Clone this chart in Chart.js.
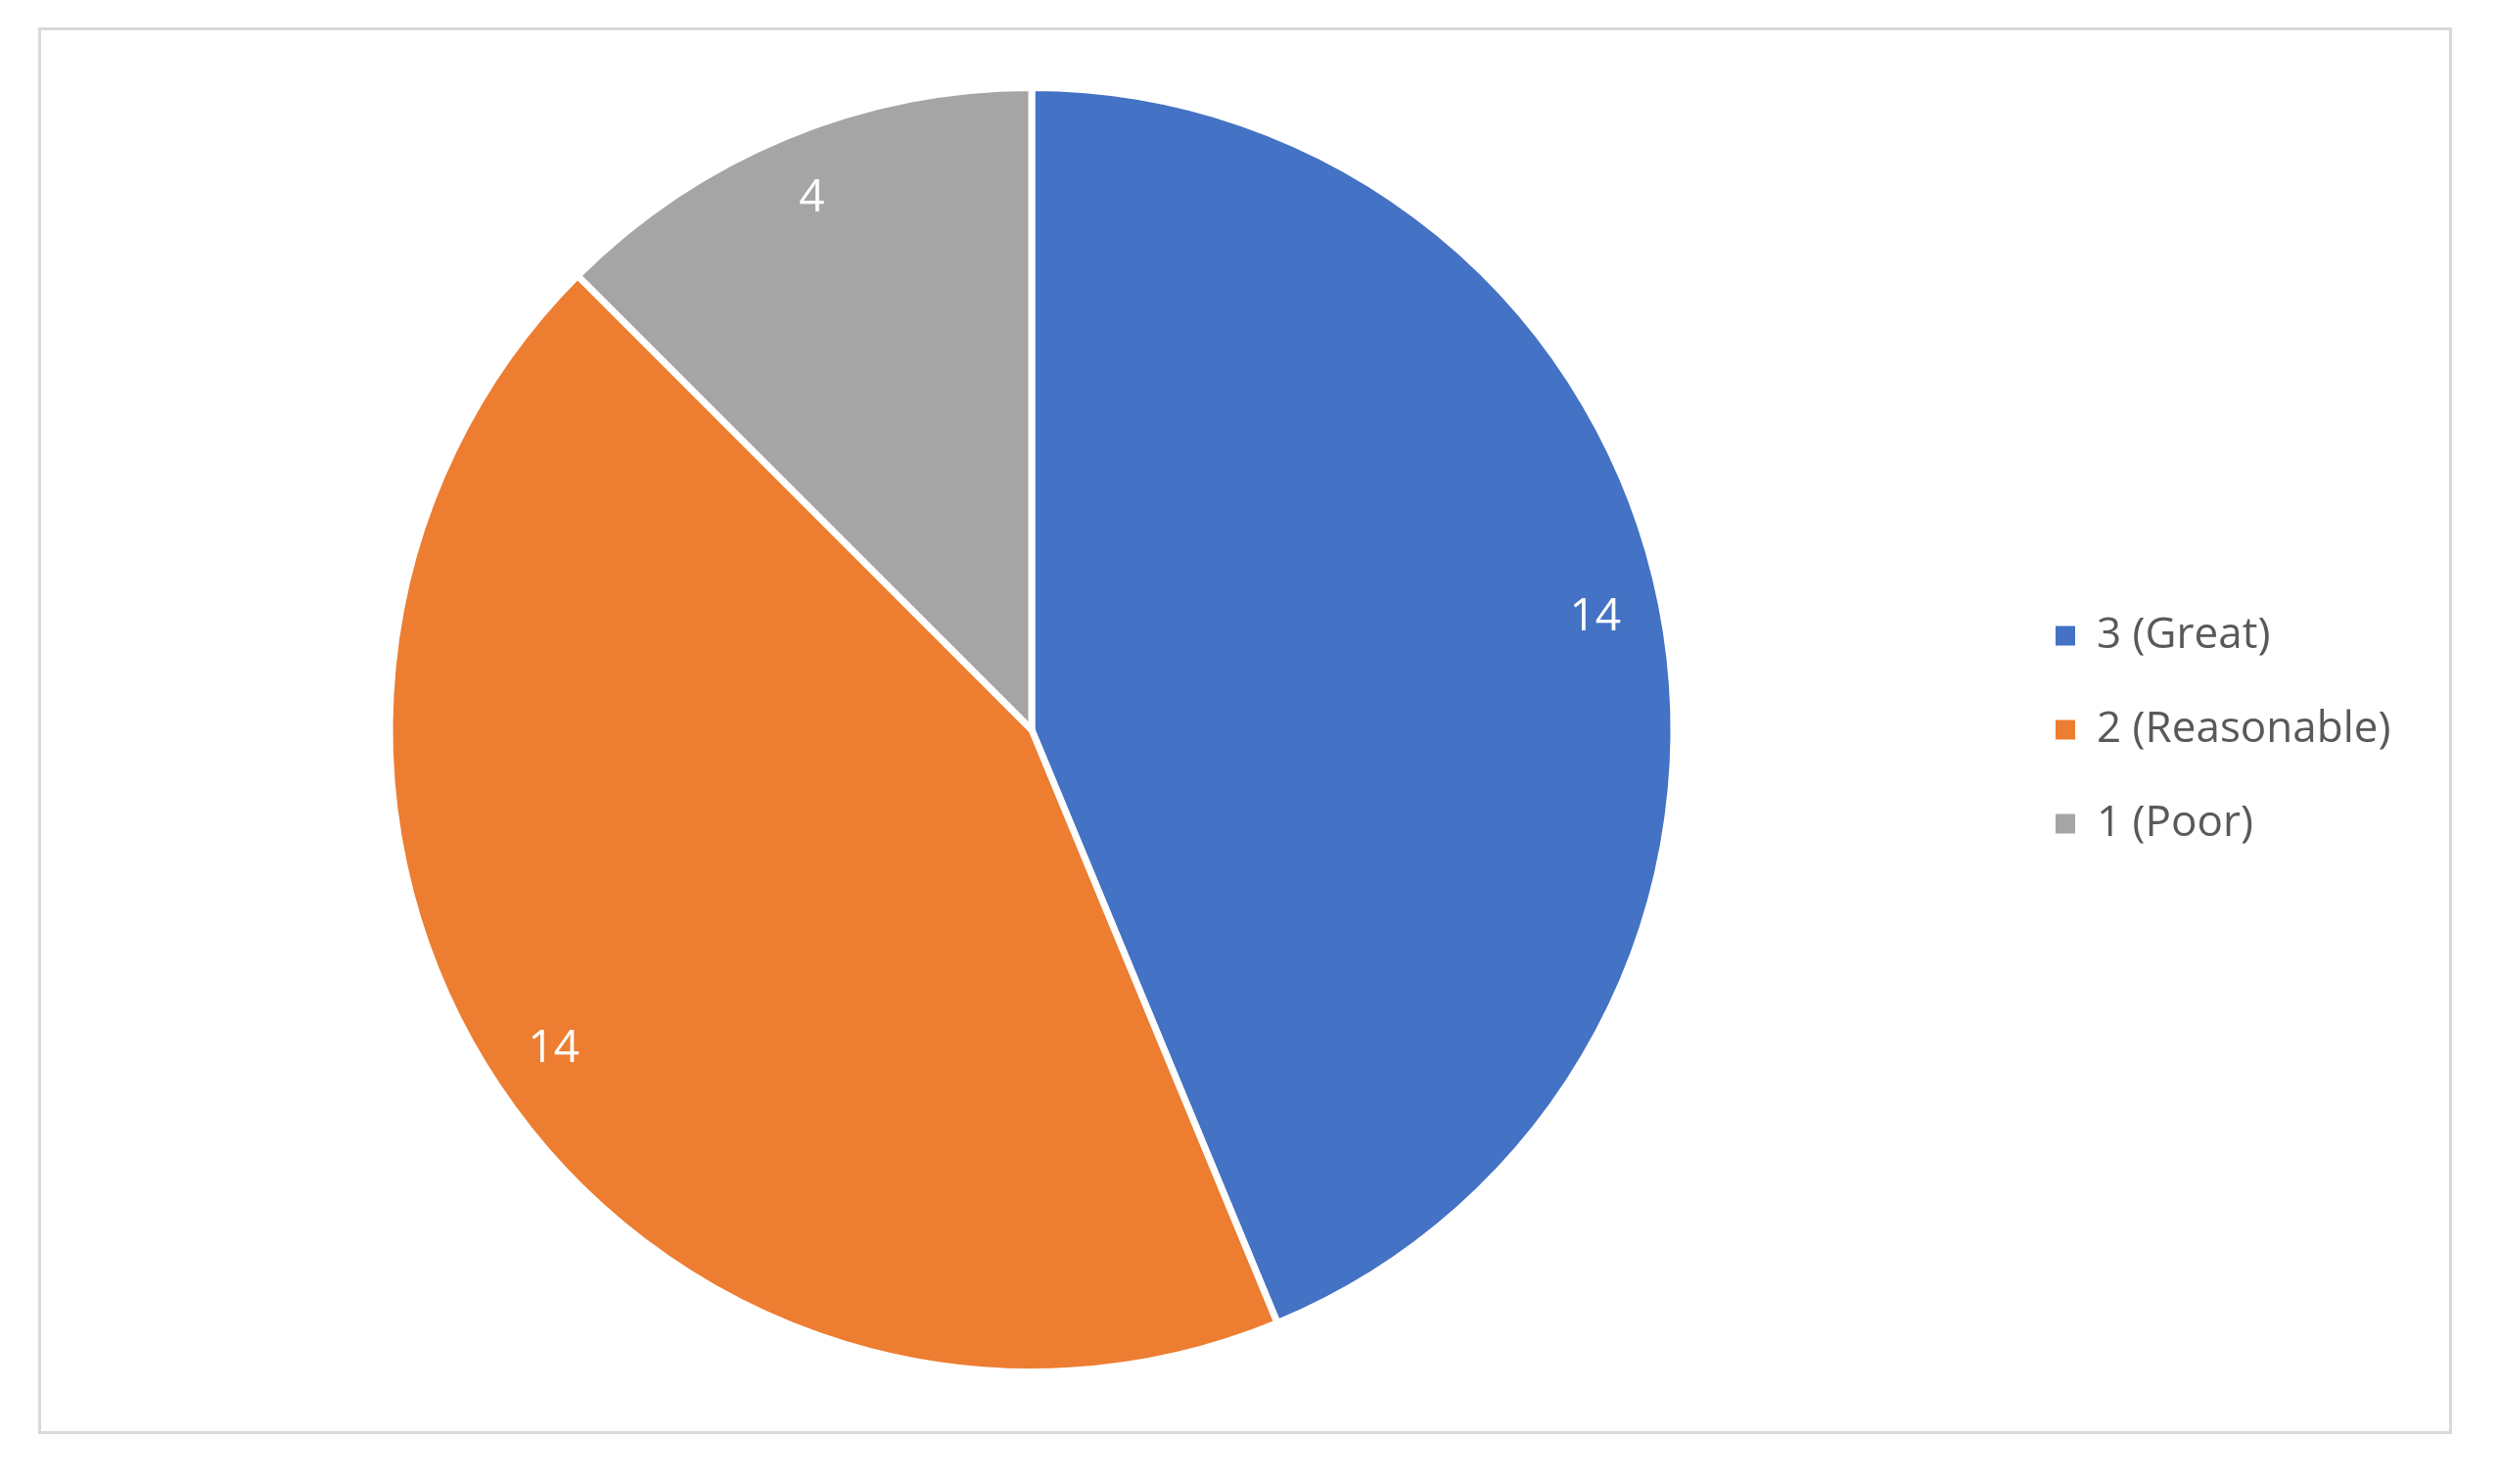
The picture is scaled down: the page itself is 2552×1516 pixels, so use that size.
<!DOCTYPE html>
<html>
<head>
<meta charset="utf-8">
<script src="https://cdn.jsdelivr.net/npm/chart.js@4"></script>
<style>
  body { margin: 0; background: #fff; }
  #frame {
    position: absolute; left: 39px; top: 28px;
    width: 2466px; height: 1437px;
    border: 3px solid #d9d9d9; box-sizing: border-box;
  }
  #wrap { position: relative; width: 2460px; height: 1431px; }
</style>
</head>
<body>
<div id="frame"><div id="wrap"><canvas id="pieChart"></canvas></div></div>
<script>
var categories = ['3 (Great)', '2 (Reasonable)', '1 (Poor)'];
var counts = [14, 14, 4];
var sliceColors = ['#4472C4', '#ED7D31', '#A5A5A5'];

var fontFamily = "'Open Sans', 'Liberation Sans', sans-serif";

// white value labels near the outer edge of each slice
var sliceLabels = {
    id: 'sliceLabels',
    afterDatasetsDraw: function (chart) {
        var ctx = chart.ctx;
        var meta = chart.getDatasetMeta(0);
        ctx.save();
        ctx.fillStyle = '#ffffff';
        ctx.font = '46px ' + fontFamily;
        ctx.textAlign = 'center';
        ctx.textBaseline = 'middle';
        meta.data.forEach(function (arc, i) {
            var mid = (arc.startAngle + arc.endAngle) / 2;
            var r = arc.outerRadius * 0.895;
            ctx.fillText(String(counts[i]), arc.x + Math.cos(mid) * r, arc.y + Math.sin(mid) * r);
        });
        ctx.restore();
    }
};

// fixed legend width so the padded items are not clipped
var legendWidth = {
    id: 'legendWidth',
    beforeInit: function (chart) {
        var fit = chart.legend.fit;
        chart.legend.fit = function () {
            fit.call(this);
            this.width = 420;
        };
    }
};

var defaultLabels = Chart.overrides.pie.plugins.legend.labels.generateLabels;

var ctx = document.getElementById('pieChart').getContext('2d');
new Chart(ctx, {
    type: 'pie',
    data: {
        labels: categories,
        datasets: [{
            data: counts,
            backgroundColor: sliceColors,
            borderColor: '#ffffff',
            borderWidth: 7
        }]
    },
    options: {
        responsive: true,
        maintainAspectRatio: false,
        animation: false,
        layout: { padding: { left: 18, right: 34, top: 55, bottom: 57 } },
        plugins: {
            tooltip: { enabled: false },
            legend: {
                position: 'right',
                labels: {
                    boxWidth: 20,
                    boxHeight: 20,
                    padding: 52,
                    color: '#595959',
                    font: { family: fontFamily, size: 44 },
                    generateLabels: function (chart) {
                        return defaultLabels(chart).map(function (item) {
                            item.lineWidth = 0;
                            return item;
                        });
                    }
                }
            }
        }
    },
    plugins: [sliceLabels, legendWidth]
});
</script>
</body>
</html>
